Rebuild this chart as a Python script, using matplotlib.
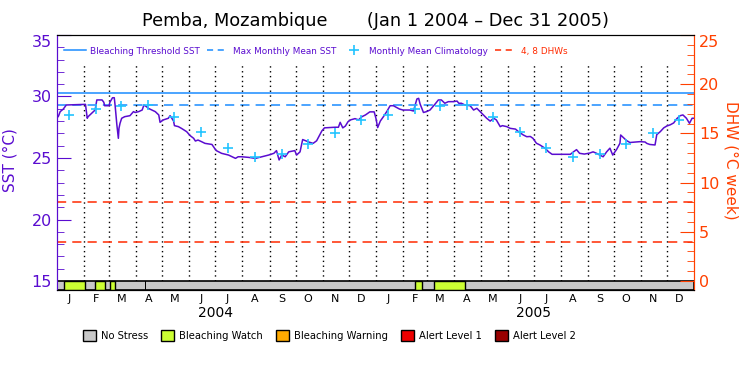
import pandas as pd
import matplotlib
matplotlib.use("Agg")
import matplotlib.pyplot as plt
import matplotlib.dates as mdates
from matplotlib.patches import Rectangle, Patch
from matplotlib.lines import Line2D
from matplotlib.ticker import MultipleLocator
from matplotlib.transforms import blended_transform_factory

START = pd.Timestamp("2004-01-01")
END = pd.Timestamp("2006-01-01")

# SST (deg C), days after 1 Jan 2004
sst_day = [0, 2, 4, 7.6, 11, 33, 35, 36, 40, 44, 46, 52, 54, 55, 60, 61, 64, 66, 67, 68,
           69, 70.7, 71.4, 72.6, 74.5, 78, 84, 88, 90, 94, 98, 100, 103, 105, 109, 113, 117,
           118.5, 122, 128, 130, 132, 134, 135, 139.5, 143, 149, 153, 157, 159, 162, 166, 170,
           178, 181, 183, 189, 197, 205, 208, 212, 220, 228, 235, 243, 249, 252, 255, 258,
           262, 266, 273, 275, 279, 282, 289, 294, 298, 301, 304, 307, 319, 323, 325, 328,
           331, 334, 337, 342, 346, 350, 354, 359, 364,
           366, 368, 371, 374.6, 378.4, 382.3, 386, 393, 397, 405, 409, 411, 413, 415, 416.6,
           420.5, 424, 428, 434, 437.6, 441, 445, 449, 455, 459, 461, 464, 468, 474, 478,
           481.7, 485.5, 489.4, 493, 497, 501, 504, 508.5, 511, 516, 520, 526, 529.5, 535,
           539, 543, 546, 550, 554, 560, 564, 568, 589, 592.5, 596, 599.5, 605, 611, 615,
           619, 622.6, 626.5, 630.5, 634.3, 637.5, 642, 645.8, 646.6, 653.3, 657.2, 664.6,
           669, 674.6, 676.5, 680, 686, 688, 692, 696, 699.5, 703.5, 707.4, 711, 714.8, 718,
           722, 725.5, 728.5, 730.5]
sst_val = [28.23, 28.4, 28.77, 28.98, 29.31, 29.36, 28.23, 28.36, 28.63, 28.9, 29.72, 29.72,
           29.53, 29.25, 29.25, 29.53, 29.9, 29.9, 29.25, 28.5,
           27.68, 26.6, 27.41, 27.82, 28.23, 28.36, 28.44, 28.77, 28.7, 28.77, 28.9, 29.31,
           29.17, 29.04, 28.9, 28.77, 28.5,
           27.9, 28.09, 28.23, 28.44, 28.23, 28.0, 27.63, 27.55, 27.41, 27.14, 26.82, 26.6,
           26.38, 26.46, 26.33, 26.19,
           26.1, 25.79, 25.6, 25.38, 25.24, 24.97, 25.1, 25.1, 25.05, 24.97, 25.1, 25.24,
           25.38, 25.6, 24.84, 25.24,
           25.1, 25.5, 25.6, 25.24, 25.5, 26.5, 26.3, 26.19, 26.4, 26.8, 27.2, 27.45, 27.5,
           27.5, 27.9, 27.45,
           27.6, 27.95, 28.1, 28.2, 28.1, 28.36, 28.5, 28.75, 28.75,
           28.23, 27.47, 28.0, 28.36, 28.77, 29.25, 29.25, 28.98, 28.9, 28.9, 28.82, 29.31,
           29.8, 29.85, 29.4,
           28.7, 28.77, 28.9, 29.4, 29.72, 29.72, 29.45, 29.58, 29.58, 29.63, 29.45, 29.45,
           29.31, 29.25, 28.9,
           29.04, 28.77, 28.5, 28.23, 28.0, 28.23, 28.1, 27.55, 27.63, 27.55, 27.41, 27.35,
           27.14, 26.87,
           26.73, 26.75, 26.6, 26.2, 26.06, 25.79, 25.5, 25.3, 25.3, 25.5, 25.68, 25.38,
           25.32, 25.4, 25.5,
           25.38, 25.24, 25.1, 25.5, 25.8, 25.24, 25.7, 26.2, 26.87, 26.42, 26.26, 26.3,
           26.33, 26.3, 26.19, 26.1, 26.06, 26.9, 27.14, 27.45, 27.6, 27.7, 27.85, 28.2,
           28.44, 28.5,
           28.23, 27.82, 28.23, 28.23]

# monthly mean climatology (deg C), Jan..Dec
clim_val = [28.5, 28.95, 29.25, 29.3, 28.3, 27.1, 25.8, 25.1, 25.3, 26.1, 27.0, 28.1]
mmm = 29.3
threshold = 30.3
dhw_levels = [4, 8]

# bleaching watch periods and one missing day in the stress bar
watch_periods = [("2004-01-09", "2004-02-03"), ("2004-02-14", "2004-02-25"),
                 ("2004-03-02", "2004-03-08"), ("2005-02-15", "2005-02-23"),
                 ("2005-03-09", "2005-04-13")]
nodata_days = ["2004-04-11"]

years = [2004, 2005]
month_letters = ["J", "F", "M", "A", "M", "J", "J", "A", "S", "O", "N", "D"]

stress_labels = ["No Stress", "Bleaching Watch", "Bleaching Warning",
                 "Alert Level 1", "Alert Level 2"]
stress_colors = ["#c8c8c8", "#ccff33", "#ffaa00", "#ee0000", "#990000"]

PURPLE = "#5a0cd0"
ORANGE = "#ff4000"
BLUE = "#1a8cff"
CYAN = "#22c4ff"
RED = "#ff2a00"

YMIN = 14.27
YMAX = 35.0
BAR_TOP = 15.0
DHW_PER_C = 1.25

fig = plt.figure(figsize=(7.5, 3.75), dpi=100)
ax = fig.add_axes([0.0756, 0.2267, 0.8501, 0.68])
ax2 = ax.twinx()

x0 = mdates.date2num(START)
x1 = mdates.date2num(END)

# SST series
sst_dates = START + pd.to_timedelta(sst_day, unit="D")
ax.plot(sst_dates, sst_val, color=PURPLE, lw=1.1, zorder=5)

# climatology crosses at mid-month
clim_dates = [pd.Timestamp(y, m + 1, 15) for y in years for m in range(12)]
ax.plot(clim_dates, clim_val * len(years), ls="none", marker="+", ms=7.5, mew=1.2,
        color=CYAN, zorder=6)

ax.axhline(threshold, color=BLUE, lw=1.1)
ax.axhline(mmm, color=BLUE, lw=1.1, ls=(0, (6, 4)))
for d in dhw_levels:
    ax2.axhline(d, color=RED, lw=1.1, ls=(0, (6, 4)))

# monthly dotted grid
month_starts = pd.date_range(START, END, freq="MS")[1:-1]
ax.vlines(month_starts, BAR_TOP, 32.7, colors="black", lw=1, ls=(0, (1, 2.5)))

# stress bar
ax.add_patch(Rectangle((x0, YMIN), x1 - x0, BAR_TOP - YMIN, fc=stress_colors[0],
                       ec="black", lw=1.2, zorder=3))
for a, b in watch_periods:
    xa = mdates.date2num(pd.Timestamp(a))
    xb = mdates.date2num(pd.Timestamp(b))
    ax.add_patch(Rectangle((xa, YMIN), xb - xa, BAR_TOP - YMIN, fc=stress_colors[1],
                           ec="black", lw=1, zorder=4))
for d in nodata_days:
    xa = mdates.date2num(pd.Timestamp(d))
    ax.add_patch(Rectangle((xa, YMIN), 1.2, BAR_TOP - YMIN, fc="black", ec="none", zorder=4))

ax.set_xlim(x0, x1)
ax.set_ylim(YMIN, YMAX)
ax2.set_ylim((YMIN - 15) * DHW_PER_C, (YMAX - 15) * DHW_PER_C)

# month letters and years below the bar
mid_months = [pd.Timestamp(y, m + 1, 15) for y in years for m in range(12)]
ax.set_xticks(mdates.date2num(mid_months), labels=month_letters * len(years))
ax.tick_params(axis="x", length=0, pad=3, labelsize=8)
trans = blended_transform_factory(ax.transData, ax.transAxes)
for y in years:
    ax.text(mdates.date2num(pd.Timestamp(y, 7, 1)), -0.09, str(y), transform=trans,
            ha="center", va="center", fontsize=10)

ax.set_yticks([15, 20, 25, 30, 35])
ax.yaxis.set_minor_locator(MultipleLocator(1))
ax.tick_params(axis="y", which="both", direction="in", colors=PURPLE, labelsize=11.5)
ax.tick_params(axis="y", which="major", length=10)
ax.tick_params(axis="y", which="minor", length=5)
ax2.set_yticks([0, 5, 10, 15, 20, 25])
ax2.yaxis.set_minor_locator(MultipleLocator(1))
ax2.tick_params(axis="y", which="both", direction="in", colors=ORANGE, labelsize=11.5)
ax2.tick_params(axis="y", which="major", length=10)
ax2.tick_params(axis="y", which="minor", length=5)
ax.yaxis.get_major_ticks()[-1].label1.set_va("top")
ax2.yaxis.get_major_ticks()[-1].label2.set_va("top")

for a in (ax, ax2):
    a.spines["left"].set_color(PURPLE)
    a.spines["right"].set_color(ORANGE)
    a.spines["top"].set_color("black")
    a.spines["bottom"].set_color("black")

ax.set_ylabel("SST (°C)", color=PURPLE, fontsize=11)
ax.yaxis.set_label_coords(-0.061, 0.51)
ax2.set_ylabel("DHW (°C week)", color=ORANGE, fontsize=11, rotation=-90, va="center")
ax2.yaxis.set_label_coords(1.058, 0.51)

fig.suptitle("Pemba, Mozambique       (Jan 1 2004 \u2013 Dec 31 2005)",
             x=0.5, y=0.945, va="center", fontsize=12.8)

# legend inside the plot
handles = [Line2D([], [], color=BLUE, lw=1.1),
           Line2D([], [], color=BLUE, lw=1.1, ls=(0, (4, 3))),
           Line2D([], [], color=CYAN, ls="none", marker="+", ms=7, mew=1.2),
           Line2D([], [], color=RED, lw=1.1, ls=(0, (4, 3)))]
labels = ["Bleaching Threshold SST", "Max Monthly Mean SST",
          "Monthly Mean Climatology", "4, 8 DHWs"]
leg = ax.legend(handles, labels, loc="center left", bbox_to_anchor=(0.012, 0.937),
                ncol=4, frameon=False, fontsize=6.4, handlelength=2.4, handletextpad=0.5,
                columnspacing=0.8, borderaxespad=0, borderpad=0)
for t, c in zip(leg.get_texts(), [PURPLE, PURPLE, PURPLE, RED]):
    t.set_color(c)

# stress level legend
patches = [Patch(fc=c, ec="black", lw=1) for c in stress_colors]
fig.legend(patches, stress_labels, loc="center", bbox_to_anchor=(0.439, 0.105), ncol=5,
           frameon=False, fontsize=7.2, handlelength=1.3, handleheight=1.3,
           handletextpad=0.5, columnspacing=1.3)

fig.savefig("out.png", dpi=100)
